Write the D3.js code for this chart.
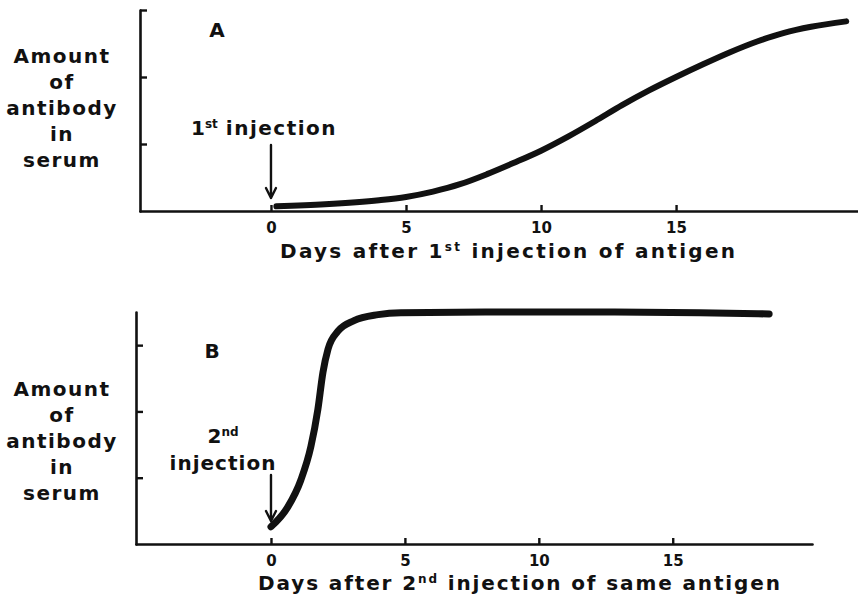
<!DOCTYPE html>
<html>
<head>
<meta charset="utf-8">
<script src="https://cdn.jsdelivr.net/npm/d3@7"></script>
<style>
  html, body { margin: 0; padding: 0; background: #fff; }
  svg { display: block; }
  text { font-family: "DejaVu Sans", sans-serif; font-weight: bold; fill: #111; }
</style>
</head>
<body>
<svg id="chart" width="858" height="602"></svg>
<script>
// Primary response (panel A): days after first injection vs. relative antibody amount
const daysA   = [0.2, 2, 4, 5, 6, 7, 8, 9, 10, 11, 12, 13, 14, 15, 16, 17, 18, 19, 20, 21.3];
const amountA = [0.07, 0.10, 0.16, 0.21, 0.29, 0.40, 0.55, 0.72, 0.90, 1.11, 1.34, 1.58, 1.80, 2.00, 2.19, 2.37, 2.53, 2.66, 2.75, 2.83];

// Secondary response (panel B): days after second injection vs. relative antibody amount
const daysB   = [0.0, 0.63, 1.12, 1.49, 1.75, 1.94, 2.13, 2.5, 3.1, 4.0, 4.85, 8.0, 12.0, 16.0, 18.6];
const amountB = [0.26, 0.56, 0.97, 1.47, 2.03, 2.59, 2.94, 3.21, 3.37, 3.46, 3.49, 3.5, 3.5, 3.49, 3.47];

const xTicks = [0, 5, 10, 15];
const yTicksA = [1, 2, 3];
const yTicksB = [1, 2, 3];

const yLabelLines = ["Amount", "of", "antibody", "in", "serum"];

const svg = d3.select("#chart");
const ink = "#111";

function panel(cfg) {
  const g = svg.append("g");
  const x = d3.scaleLinear().domain(cfg.xDomain).range(cfg.xRange);
  const y = d3.scaleLinear().domain(cfg.yDomain).range(cfg.yRange);

  // x axis with ticks pointing up into the plot
  const xAxis = g.append("g")
    .attr("transform", `translate(0,${cfg.yRange[0]})`)
    .call(d3.axisBottom(x).tickValues(xTicks).tickSize(-6).tickSizeOuter(0).tickPadding(11)
      .tickFormat(d3.format("d")));
  // y axis with ticks pointing right, no labels
  const yAxis = g.append("g")
    .attr("transform", `translate(${cfg.xRange[0]},0)`)
    .call(d3.axisLeft(y).tickValues(cfg.yTicks).tickSize(-7).tickSizeOuter(0).tickFormat(""));

  [xAxis, yAxis].forEach(a => {
    a.select(".domain").attr("stroke", ink).attr("stroke-width", 2.6).attr("stroke-linecap", "round");
    a.selectAll(".tick line").attr("stroke", ink).attr("stroke-width", 2.4);
  });
  xAxis.selectAll(".tick text")
    .attr("fill", ink).attr("font-size", 15).attr("font-weight", "bold")
    .attr("font-family", "\"DejaVu Sans\", sans-serif");

  // response curve
  const pts = cfg.days.map((d, i) => [d, cfg.amounts[i]]);
  g.append("path")
    .datum(pts)
    .attr("fill", "none")
    .attr("stroke", ink)
    .attr("stroke-width", cfg.curveWidth)
    .attr("stroke-linecap", "round")
    .attr("stroke-linejoin", "round")
    .attr("d", d3.line().x(d => x(d[0])).y(d => y(d[1])).curve(d3.curveMonotoneX));

  // vertical axis title, centred stack of words
  yLabelLines.forEach((t, i) => {
    g.append("text")
      .attr("x", cfg.yLabelX)
      .attr("y", cfg.yLabelTop + i * 26)
      .attr("text-anchor", "middle")
      .attr("font-size", 20)
      .attr("letter-spacing", 1.5)
      .text(t);
  });

  // panel letter
  g.append("text")
    .attr("x", cfg.letterPos[0]).attr("y", cfg.letterPos[1])
    .attr("text-anchor", "middle").attr("font-size", 20)
    .text(cfg.letter);

  // horizontal axis title with superscript ordinal
  const title = g.append("text")
    .attr("x", cfg.titlePos[0]).attr("y", cfg.titlePos[1])
    .attr("font-size", 20)
    .attr("textLength", cfg.titleWidth)
    .attr("lengthAdjust", "spacing");
  title.append("tspan").text(cfg.titleParts[0]);
  title.append("tspan").attr("font-size", 12).attr("baseline-shift", "60%").text(cfg.titleParts[1]);
  title.append("tspan").attr("baseline-shift", "0%").text(cfg.titleParts[2]);

  // injection marker arrow at day 0
  const ax = x(0);
  g.append("path")
    .attr("d", `M${ax},${cfg.arrow[0]} V${cfg.arrow[1]} M${ax - 5},${cfg.arrow[1] - 10} L${ax},${cfg.arrow[1]} L${ax + 5},${cfg.arrow[1] - 10}`)
    .attr("fill", "none").attr("stroke", ink).attr("stroke-width", 2.4)
    .attr("stroke-linecap", "round").attr("stroke-linejoin", "round");

  return { g, x, y };
}

// Panel A
const A = panel({
  xDomain: [-4.85, 21.7], xRange: [140, 857],
  yDomain: [0, 3], yRange: [211, 10], yTicks: yTicksA,
  days: daysA, amounts: amountA, curveWidth: 6,
  yLabelX: 62, yLabelTop: 63,
  letter: "A", letterPos: [217, 37],
  titlePos: [280, 258], titleWidth: 455, titleParts: ["Days  after 1", "st", " injection  of  antigen"],
  arrow: [145, 198]
});
const injA = A.g.append("text").attr("x", 191).attr("y", 135).attr("font-size", 20);
injA.append("tspan").text("1");
injA.append("tspan").attr("font-size", 12).attr("baseline-shift", "60%").text("st");
injA.append("tspan").attr("dx", 8).attr("baseline-shift", "0%").attr("letter-spacing", 1.5).text("injection");

// Panel B
const B = panel({
  xDomain: [-5.04, 20.2], xRange: [136, 812],
  yDomain: [0, 3.5], yRange: [544, 312], yTicks: yTicksB,
  days: daysB, amounts: amountB, curveWidth: 7,
  yLabelX: 62, yLabelTop: 396,
  letter: "B", letterPos: [212, 358],
  titlePos: [258, 590], titleWidth: 522, titleParts: ["Days  after 2", "nd", " injection  of  same  antigen"],
  arrow: [475, 521]
});
const injB1 = B.g.append("text").attr("x", 223).attr("y", 443).attr("font-size", 20).attr("text-anchor", "middle");
injB1.append("tspan").text("2");
injB1.append("tspan").attr("font-size", 12).attr("baseline-shift", "60%").text("nd");
B.g.append("text").attr("x", 223).attr("y", 470).attr("font-size", 20)
  .attr("text-anchor", "middle").attr("letter-spacing", 1).text("injection");
</script>
</body>
</html>
